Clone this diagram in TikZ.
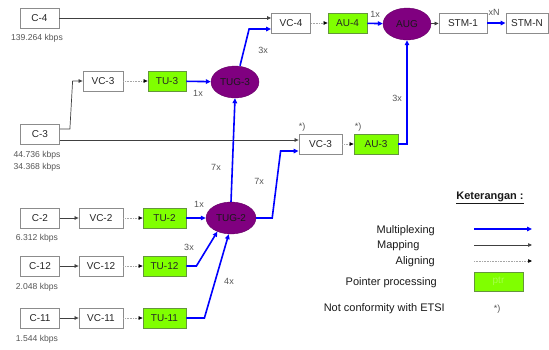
\documentclass[tikz,border=0pt]{standalone}
\usepackage{fontspec}
\setmainfont{Liberation Sans}
\usetikzlibrary{shapes.geometric,arrows.meta,calc}
\definecolor{ptrgreen}{RGB}{128,255,0}
\definecolor{ptrborder}{RGB}{100,150,60}
\definecolor{augpurple}{RGB}{128,0,128}
\definecolor{lblgrey}{RGB}{85,85,85}
\definecolor{boxborder}{RGB}{140,140,140}
\tikzset{
  box/.style={draw=boxborder, line width=0.8pt, fill=white, minimum height=20pt, inner sep=0pt,
    font=\fontsize{10}{12}\selectfont, text=black!85},
  ptrbox/.style={box, fill=ptrgreen, draw=ptrborder},
  grp/.style={ellipse, fill=augpurple, draw=augpurple!80!black, minimum width=48pt, minimum height=32pt,
    inner sep=0pt, font=\fontsize{10}{12}\selectfont, text=black!90},
  mux/.style={draw=blue, line width=1.6pt, -{Triangle[length=5pt,width=4.5pt]}},
  mapline/.style={draw=black!75, line width=0.7pt, -{Triangle[length=4pt,width=3.5pt]}},
  alignline/.style={draw=black!35, line width=0.6pt, densely dotted, -{Triangle[length=4pt,width=3.5pt,black]}},
  lbl/.style={font=\fontsize{9}{10}\selectfont, text=lblgrey, inner sep=0pt},
  rate/.style={font=\fontsize{8.6}{10}\selectfont, text=lblgrey, inner sep=0pt},
  legtext/.style={font=\fontsize{11}{13}\selectfont, text=black!90, inner sep=0pt},
}
\begin{document}
\begin{tikzpicture}[x=1pt,y=-1pt]
\useasboundingbox (0,0) rectangle (549,349);
% containers and boxes
\node[box, minimum width=39pt] (c4) at (39.5,18) {C-4};
\node[box, minimum width=39pt] (c3) at (40,134) {C-3};
\node[box, minimum width=39pt] (c2) at (40,218) {C-2};
\node[box, minimum width=39pt] (c12) at (40,266) {C-12};
\node[box, minimum width=39pt] (c11) at (40,318) {C-11};
\node[box, minimum width=40pt] (vc3a) at (103,81) {VC-3};
\node[box, minimum width=44pt] (vc2) at (101,218) {VC-2};
\node[box, minimum width=44pt] (vc12) at (101,266) {VC-12};
\node[box, minimum width=44pt] (vc11) at (101,318) {VC-11};
\node[ptrbox, minimum width=38pt] (tu3) at (167,81) {TU-3};
\node[ptrbox, minimum width=43pt] (tu2) at (164.5,218) {TU-2};
\node[ptrbox, minimum width=43pt] (tu12) at (164.5,266) {TU-12};
\node[ptrbox, minimum width=43pt] (tu11) at (164.5,318) {TU-11};
\node[grp] (tug3) at (235,82) {TUG-3};
\node[grp, minimum width=50pt] (tug2) at (231,218) {TUG-2};
\node[box, minimum width=39pt] (vc4) at (291,23) {VC-4};
\node[ptrbox, minimum width=39pt] (au4) at (347.5,23) {AU-4};
\node[grp] (aug) at (407,24) {AUG};
\node[box, minimum width=48pt] (stm1) at (463,23) {STM-1};
\node[box, minimum width=42pt] (stmn) at (527,23) {STM-N};
\node[box, minimum width=43pt] (vc3b) at (320.5,144) {VC-3};
\node[ptrbox, minimum width=44pt] (au3) at (376,144) {AU-3};
% rates
\node[rate] (r4) at (37,38) {139.264 kbps};
\node[rate] (r3a) at (37,155) {44.736 kbps};
\node[rate] (r3b) at (37,167) {34.368 kbps};
\node[rate] (r2) at (37,238) {6.312 kbps};
\node[rate] (r12) at (37,287) {2.048 kbps};
\node[rate] (r11) at (37,339) {1.544 kbps};
% connectors
\draw[mapline] (c4.east) -- (vc4.west |- c4.east);
\draw[mapline] ([yshift=5pt]c3.east) -- ++(10,0) -- ([xshift=-10pt]vc3a.west) -- (vc3a.west);
\draw[mapline] ([yshift=-6pt]c3.east) -- ([yshift=-6pt]c3.east -| vc3b.west);
\draw[alignline] (vc3a) -- (tu3);
\draw[mux] (tu3) -- (tug3);
\draw[mux] ([xshift=5pt]tug3.north) -- ([shift={(-22pt,-6pt)}]vc4.west) -- ([yshift=-6pt]vc4.west);
\draw[alignline] (vc4) -- (au4);
\draw[mux] (au4) -- (aug);
\draw[mapline] (aug) -- (stm1);
\draw[mux] (stm1) -- (stmn);
\draw[alignline] (vc3b) -- (au3);
\draw[mux] (au3.east) -- (aug.south |- au3.east) -- (aug.south);
\draw[mux] (tug2.north) -- (tug3.south);
\draw[mux] (tug2.east) -- ++(16,0) -- ([shift={(-18pt,-7pt)}]vc3b.west) -- ([yshift=-7pt]vc3b.west);
\draw[mapline] (c2) -- (vc2);
\draw[mapline] (c12) -- (vc12);
\draw[mapline] (c11) -- (vc11);
\draw[alignline] (vc2) -- (tu2);
\draw[alignline] (vc12) -- (tu12);
\draw[alignline] (vc11) -- (tu11);
\draw[mux] (tu2) -- (tug2);
\draw[mux] (tu12.east) -- ++(10,0) -- (tug2.225);
\draw[mux] (tu11.east) -- ++(18,0) -- (tug2.262);
% multiplicity labels
\node[lbl] (m1) at (198,93) {1x};
\node[lbl] (m2) at (263,50) {3x};
\node[lbl] (m3) at (375,14) {1x};
\node[lbl] (m4) at (494,12) {xN};
\node[lbl] (m5) at (397,98) {3x};
\node[lbl] (s1) at (302,127) {*)};
\node[lbl] (s2) at (358,127) {*)};
\node[lbl] (m6) at (216,167) {7x};
\node[lbl] (m7) at (259,181) {7x};
\node[lbl] (m8) at (199,204) {1x};
\node[lbl] (m9) at (189,247) {3x};
\node[lbl] (m10) at (229,281) {4x};
% legend
\node[legtext, font=\fontsize{11}{13}\selectfont\bfseries] (leg) at (490,198) {\underline{Keterangan :}};
\node[legtext, anchor=east] (lmux) at (435,231) {Multiplexing};
\node[legtext, anchor=west] (lmap) at (377,246) {Mapping};
\node[legtext, anchor=east] (lali) at (435,262) {Aligning};
\node[legtext, anchor=east] (lptr) at (437,283) {Pointer processing};
\node[legtext, anchor=east] (lnc) at (445,309) {Not conformity with ETSI};
\coordinate (a1) at (474,229); \coordinate (b1) at (532,229);
\coordinate (a2) at (474,245); \coordinate (b2) at (532,245);
\coordinate (a3) at (474,261); \coordinate (b3) at (532,261);
\draw[mux] (a1) -- (b1);
\draw[mapline] (a2) -- (b2);
\draw[alignline] (a3) -- (b3);
\node[ptrbox, minimum width=49pt, minimum height=19pt, text=ptrgreen!70!white] (lbox) at (498.5,281.5) {ptr};
\node[lbl] (lstar) at (497,309) {*)};
\end{tikzpicture}
\end{document}
